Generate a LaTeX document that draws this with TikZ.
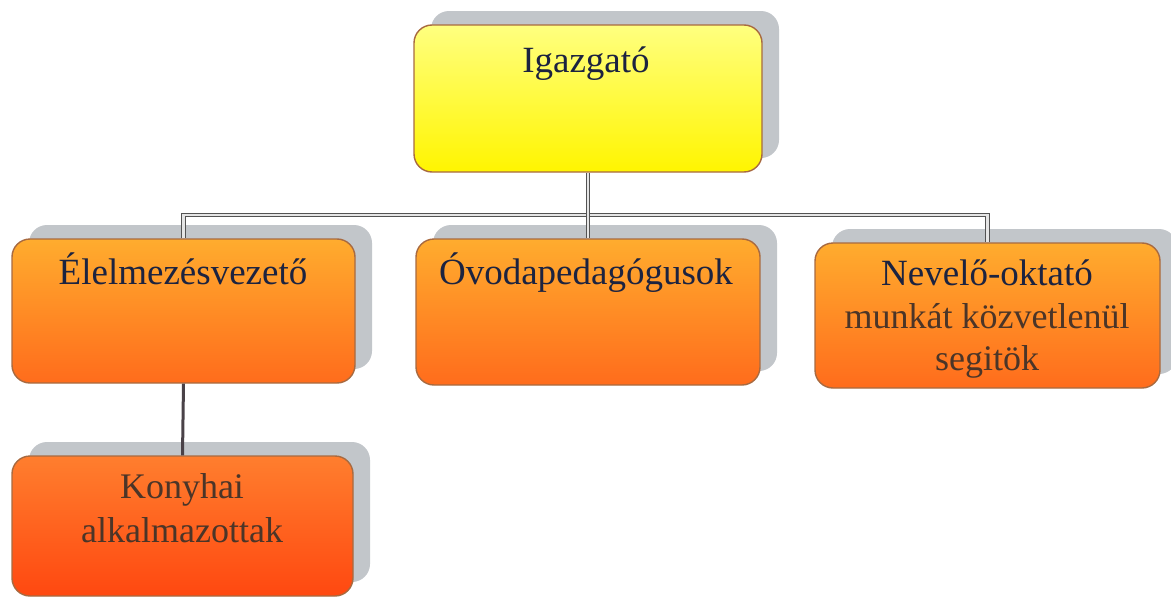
\documentclass[tikz,border=0pt]{standalone}
\usepackage{fontspec}
\setmainfont{Liberation Serif}
\usetikzlibrary{shadows}
\definecolor{navy}{HTML}{1C2340}
\definecolor{brownish}{HTML}{4B3528}
\definecolor{edge}{HTML}{A86A40}
\definecolor{shade}{HTML}{C2C6CA}
\begin{document}
\begin{tikzpicture}[x=1pt,y=-1pt,
  box/.style={rectangle, rounded corners=18pt, draw=edge, line width=1.4pt, inner sep=0pt,
    drop shadow={shadow xshift=17pt, shadow yshift=14pt, fill=shade, opacity=1}},
  yel/.style={box, top color=yellow!50!white, bottom color=yellow!92!orange},
  org/.style={box, top color={rgb,255:red,255;green,172;blue,46}, bottom color={rgb,255:red,255;green,108;blue,28}},
  red/.style={box, top color={rgb,255:red,255;green,126;blue,46}, bottom color={rgb,255:red,255;green,72;blue,16}},
  lbl/.style={anchor=base, font=\fontsize{37}{42}\selectfont, text=navy, inner sep=0pt},
  lbl2/.style={anchor=base, font=\fontsize{36}{42}\selectfont, text=brownish, inner sep=0pt},
  conn/.style={draw=gray!65!black, line width=1.1pt, double=gray!20, double distance=2.4pt},
  conn2/.style={draw={rgb,255:red,74;green,66;blue,72}, line width=3pt}]
\useasboundingbox (0,0) rectangle (1171,597);
\coordinate (bus) at (0,215);
% boxes
\node[yel, minimum width=348pt, minimum height=147pt] (ig) at (588,98.5) {};
\node[org, minimum width=343pt, minimum height=144pt] (el) at (183.5,311) {};
\node[org, minimum width=344pt, minimum height=146pt] (ov) at (588,312) {};
\node[org, minimum width=345pt, minimum height=145pt] (ne) at (987.5,315.5) {};
\node[red, minimum width=341pt, minimum height=140pt] (ko) at (182.5,526) {};
% connectors
\draw[conn] (el.north) -- (el.north |- bus) -- (ne.north |- bus) -- (ne.north);
\draw[conn] (ig.south) -- (ov.north);
\draw[conn2] (el.south) -- (ko.north);
% labels
\node[lbl] (tig) at (586,72) {Igazgató};
\node[lbl] (tel) at (183,284) {Élelmezésvezető};
\node[lbl] (tov) at (586,284) {Óvodapedagógusok};
\node[lbl] (tne1) at (987,285) {Nevelő-oktató};
\node[lbl2] (tne2) at (987,328) {munkát közvetlenül};
\node[lbl2] (tne3) at (987,370) {segitök};
\node[lbl2] (tko1) at (182,498) {Konyhai};
\node[lbl2] (tko2) at (182,542) {alkalmazottak};
\end{tikzpicture}
\end{document}
